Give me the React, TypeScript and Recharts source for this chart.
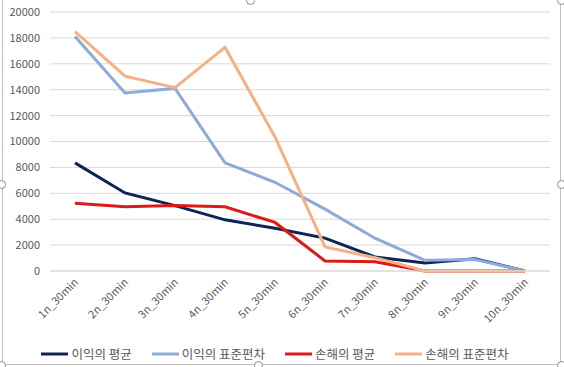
import { LineChart, Line, XAxis, YAxis, CartesianGrid, Legend } from "recharts";

const categories = [
  "1n_30min", "2n_30min", "3n_30min", "4n_30min", "5n_30min",
  "6n_30min", "7n_30min", "8n_30min", "9n_30min", "10n_30min",
];
const profitMean = [8350, 6030, 5050, 3950, 3300, 2540, 1080, 620, 950, 0];
const profitStd = [18100, 13750, 14100, 8350, 6850, 4780, 2530, 830, 880, 0];
const lossMean = [5240, 4960, 5050, 4960, 3750, 780, 720, 0, 0, 0];
const lossStd = [18480, 15040, 14160, 17280, 10350, 1860, 1030, 0, 0, 0];
const yTicks = [0, 2000, 4000, 6000, 8000, 10000, 12000, 14000, 16000, 18000, 20000];

const series = [
  { key: "profitMean", name: "이익의 평균", color: "#0e2458" },
  { key: "profitStd", name: "이익의 표준편차", color: "#8ea9db" },
  { key: "lossMean", name: "손해의 평균", color: "#dc1a1a" },
  { key: "lossStd", name: "손해의 표준편차", color: "#f4b183" },
];

const data = categories.map((name, i) => ({
  name,
  profitMean: profitMean[i],
  profitStd: profitStd[i],
  lossMean: lossMean[i],
  lossStd: lossStd[i],
}));

const FONT = "'Noto Sans CJK KR', 'Noto Sans', sans-serif";
const TEXT = "#595959";

function AngledTick({ x, y, payload }: any) {
  return (
    <text
      transform={`translate(${x + 4}, ${y + 10}) rotate(-45)`}
      textAnchor="end"
      fontSize={11}
      fontFamily={FONT}
      fill={TEXT}
    >
      {payload.value}
    </text>
  );
}

function LegendRow() {
  return (
    <div style={{ display: "flex", justifyContent: "center", gap: 20, fontFamily: FONT, fontSize: 12.5, color: TEXT }}>
      {series.map((s) => (
        <div key={s.key} style={{ display: "flex", alignItems: "center" }}>
          <svg width={27} height={6}>
            <line x1={0} y1={3} x2={27} y2={3} stroke={s.color} strokeWidth={3} />
          </svg>
          <span style={{ marginLeft: 3 }}>{s.name}</span>
        </div>
      ))}
    </div>
  );
}

const handles = [
  [250, 0], [561, 184], [258, 365], [1, 184], [1, 365], [561, 365], [561, 0],
];

export default function App() {
  return (
    <div style={{ position: "absolute", left: 0, top: 0, width: 564, height: 367, background: "#fff" }}>
      <div
        style={{
          position: "absolute", left: 2, top: -3, width: 557, height: 366,
          border: "1px solid #bfbfbf", borderRadius: 3,
        }}
      />
      {handles.map(([hx, hy], i) => (
        <div
          key={i}
          style={{
            position: "absolute", left: hx - 4, top: hy - 4, width: 7, height: 7,
            borderRadius: "50%", border: "1px solid #8c8c8c", background: "#fff",
          }}
        />
      ))}
      <div style={{ position: "absolute", left: 0, top: 0 }}>
        <LineChart width={564} height={367} data={data} margin={{ top: 12, right: 14, bottom: 8, left: 0 }}>
          <CartesianGrid vertical={false} stroke="#d9d9d9" />
          <XAxis
            dataKey="name"
            interval={0}
            tick={<AngledTick />}
            tickLine={false}
            tickSize={0}
            axisLine={{ stroke: "#d9d9d9" }}
            padding={{ left: 25, right: 25 }}
            height={69}
          />
          <YAxis
            domain={[0, 20000]}
            ticks={yTicks}
            width={50}
            axisLine={false}
            tickLine={false}
            tickSize={0}
            tickMargin={10}
            tick={{ fontSize: 11, fontFamily: FONT, fill: TEXT }}
          />
          <Legend verticalAlign="bottom" content={<LegendRow />} wrapperStyle={{ bottom: 4 }} />
          {series.map((s) => (
            <Line
              key={s.key}
              type="linear"
              dataKey={s.key}
              name={s.name}
              stroke={s.color}
              strokeWidth={3}
              dot={false}
              isAnimationActive={false}
            />
          ))}
        </LineChart>
      </div>
    </div>
  );
}
